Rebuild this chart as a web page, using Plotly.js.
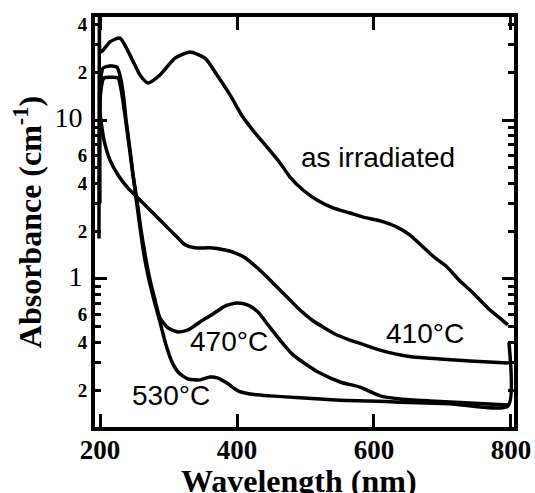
<!DOCTYPE html>
<html>
<head>
<meta charset="utf-8">
<script src="https://cdn.plot.ly/plotly-3.0.1.min.js"></script>
<style>html,body{margin:0;padding:0;background:#fff;}#chart{width:535px;height:493px;}</style>
</head>
<body>
<div id="chart"></div>
<script>
// ---- data (wavelength in nm, absorbance in cm^-1) ----
const asIrrWl = [198.5, 199.5, 201.5, 214.6, 229, 243.8, 258.4, 270, 287.6, 309.5, 331.4, 353.3, 370.8, 389.8, 408.8, 426.3, 443.8, 462.8, 477.4, 496.4, 516.8, 540.1, 565, 584, 608.8, 633.6, 652.6, 671.5, 689, 706.6, 725.5, 740.1, 754.7, 769.3, 783.9, 795.6];
const asIrrAbs = [1.8, 60, 26.8, 31, 32.8, 25.6, 19.2, 17.1, 19.2, 24.5, 26.8, 24.5, 19.2, 14.4, 10.4, 8.3, 6.76, 5.37, 4.38, 3.63, 3.14, 2.80, 2.60, 2.45, 2.32, 2.12, 1.89, 1.59, 1.36, 1.19, 0.97, 0.853, 0.738, 0.638, 0.568, 0.514];

const t410Wl = [200, 205.8, 214.6, 226.3, 240.9, 258.4, 273, 287.6, 302.2, 313.9, 324.1, 338.7, 360.6, 382.5, 397, 411.7, 426.3, 440.9, 458.4, 477.4, 492, 509.5, 525.5, 543, 565, 586.9, 608.8, 630.7, 656.9, 696.4, 740.1, 795.6];
const t410Abs = [11, 7.48, 5.6, 4.51, 3.73, 3.14, 2.72, 2.35, 2.03, 1.81, 1.64, 1.57, 1.57, 1.52, 1.46, 1.36, 1.21, 1.06, 0.89, 0.738, 0.638, 0.552, 0.499, 0.451, 0.413, 0.384, 0.357, 0.338, 0.323, 0.314, 0.305, 0.296];

const t470Wl = [199.5, 201, 204.4, 214.6, 224.8, 230.7, 235, 238, 243.8, 248.2, 254, 259.9, 267.2, 273, 280.3, 287.6, 299.3, 313.9, 328.5, 346, 365, 382.5, 400, 416, 430.7, 445.3, 462.8, 481.8, 502.2, 521.2, 550.4, 579.6, 589.8, 608.8, 638, 681.8, 740.1, 795.6];
const t470Abs = [3, 18, 21.2, 21.9, 21.5, 17.9, 13.4, 10, 6.48, 4.51, 3.14, 2.03, 1.32, 0.986, 0.738, 0.568, 0.492, 0.464, 0.478, 0.537, 0.603, 0.676, 0.706, 0.686, 0.620, 0.514, 0.413, 0.333, 0.288, 0.256, 0.225, 0.209, 0.200, 0.184, 0.176, 0.171, 0.166, 0.161];

const t530Wl = [199.5, 201, 205.8, 214.6, 226.3, 232.1, 236.5, 239.4, 245.3, 251.1, 256.9, 264.2, 271.5, 278.8, 287.6, 296.4, 305.1, 315.3, 328.5, 346, 360.6, 372.3, 386.9, 401.5, 419, 448.2, 492, 550.4, 594.2, 638, 711, 795.6, 797];
const t530Abs = [3, 15, 18.4, 18.6, 18.4, 14.4, 10.7, 8.65, 5.6, 3.63, 2.35, 1.42, 0.986, 0.738, 0.537, 0.384, 0.300, 0.256, 0.235, 0.232, 0.242, 0.238, 0.219, 0.198, 0.189, 0.184, 0.179, 0.173, 0.171, 0.168, 0.164, 0.159, 0.40];

// curve labels
const labelText = ['as irradiated', '410°C', '470°C', '530°C'];
const labelWl   = [606, 674, 388, 303];
const labelAbs  = [5.77, 0.457, 0.407, 0.186];

// axis titles
const xTitle = 'Wavelength (nm)';
const yTitle = 'Absorbance (cm<sup>-1</sup>)';

// tick labels
const xTickVals = [200, 400, 600, 800];
const xTickText = ['200', '400', '600', '800'];
const yTickVals = [0.2, 0.3, 0.4, 0.5, 0.6, 0.7, 0.8, 0.9, 1, 2, 3, 4, 5, 6, 7, 8, 9, 10, 20, 30, 40];
const yTickText = ['2', ' ', '4', ' ', '6', ' ', ' ', ' ', '1', '2', ' ', '4', ' ', '6', ' ', ' ', ' ', '10', '2', ' ', '4'];
const yMajorVals = [1, 10];

const big = s => '<span style="font-size:28px;font-weight:normal">' + s + '</span>\u00a0';
const yTickTextFmt = yTickText.map(s => (s === '1' || s === '10') ? big(s) : s);

const lineStyle = {color: '#000', width: 3.5, shape: 'spline', smoothing: 0.6};
const traces = [
  {x: asIrrWl, y: asIrrAbs, name: 'as irradiated'},
  {x: t410Wl, y: t410Abs, name: '410°C'},
  {x: t470Wl, y: t470Abs, name: '470°C'},
  {x: t530Wl, y: t530Abs, name: '530°C'}
].map(t => Object.assign(t, {type: 'scatter', mode: 'lines', line: lineStyle, hoverinfo: 'skip'}));
traces.push({x: [], y: [], yaxis: 'y2', type: 'scatter', mode: 'lines', showlegend: false});

const serif = 'Liberation Serif, Times New Roman, serif';
const yRange = [-0.931, 1.648];

const annotations = labelText.map((t, i) => ({
  text: t, x: labelWl[i], y: Math.log10(labelAbs[i]), xref: 'x', yref: 'y',
  showarrow: false, font: {family: 'Liberation Sans, Arial, sans-serif', size: 28, color: '#000'}
}));
annotations.push({
  text: xTitle, xref: 'paper', yref: 'paper', x: 0.486, y: -0.083,
  xanchor: 'center', yanchor: 'top', showarrow: false,
  font: {family: serif, size: 32, weight: 'bold', color: '#000'}
});

const layout = {
  width: 535, height: 493,
  margin: {l: 95, r: 21, t: 17, b: 66},
  paper_bgcolor: '#fff', plot_bgcolor: '#fff',
  showlegend: false,
  xaxis: {
    range: [192.7, 804.4], showgrid: false, zeroline: false,
    showline: true, linecolor: '#000', linewidth: 4, mirror: 'ticks',
    ticks: 'inside', ticklen: 13, tickwidth: 3, tickcolor: '#000',
    tickmode: 'array', tickvals: xTickVals, ticktext: xTickText,
    tickfont: {family: serif, size: 27, weight: 'bold', color: '#000'},
    ticklabelstandoff: -4
  },
  yaxis: {
    type: 'log', range: yRange, showgrid: false, zeroline: false,
    showline: true, linecolor: '#000', linewidth: 4, mirror: 'ticks',
    ticks: 'inside', ticklen: 6, tickwidth: 3, tickcolor: '#000',
    tickmode: 'array', tickvals: yTickVals, ticktext: yTickTextFmt,
    tickfont: {family: serif, size: 19, weight: 'bold', color: '#000'},
    ticklabelstandoff: 0,
    title: {text: yTitle, font: {family: serif, size: 32, weight: 'bold', color: '#000'}, standoff: 4}
  },
  yaxis2: {
    type: 'log', range: yRange, overlaying: 'y', side: 'left',
    showgrid: false, zeroline: false, showline: false, mirror: 'ticks',
    ticks: 'inside', ticklen: 12, tickwidth: 3, tickcolor: '#000',
    tickmode: 'array', tickvals: yMajorVals, showticklabels: false
  },
  annotations: annotations
};

Plotly.newPlot('chart', traces, layout, {staticPlot: true, displayModeBar: false});
</script>
</body>
</html>
